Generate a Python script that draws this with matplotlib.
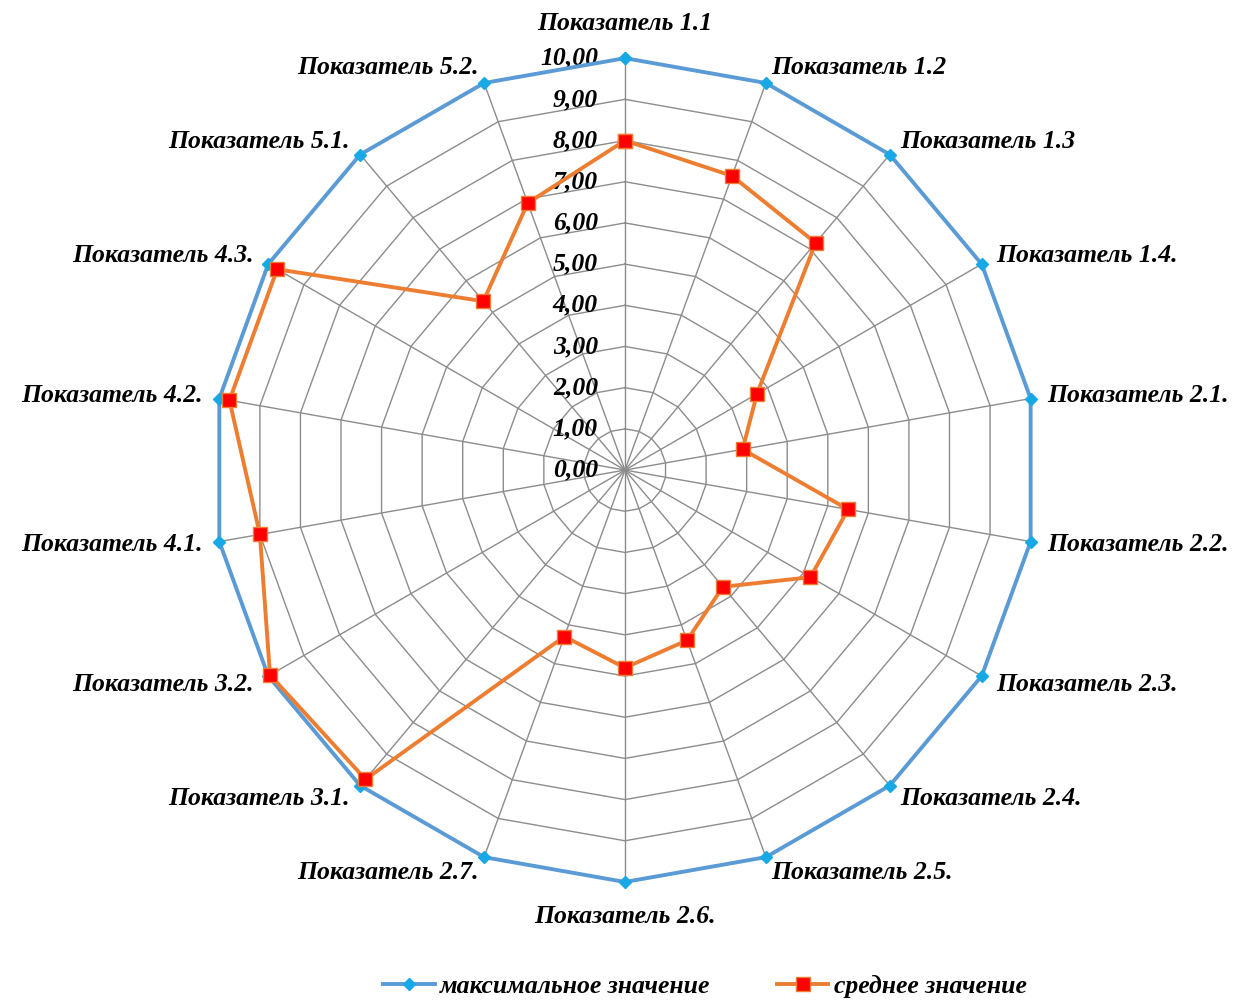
import numpy as np
import matplotlib.pyplot as plt
from matplotlib.transforms import offset_copy

plt.rcParams['font.family'] = ['Liberation Serif', 'DejaVu Serif']

# Данные
categories = ['Показатель 1.1', 'Показатель 1.2', 'Показатель 1.3', 'Показатель 1.4.',
              'Показатель 2.1.', 'Показатель 2.2.', 'Показатель 2.3.', 'Показатель 2.4.',
              'Показатель 2.5.', 'Показатель 2.6.', 'Показатель 2.7.', 'Показатель 3.1.',
              'Показатель 3.2.', 'Показатель 4.1.', 'Показатель 4.2.', 'Показатель 4.3.',
              'Показатель 5.1.', 'Показатель 5.2.']
max_values = [10, 10, 10, 10, 10, 10, 10, 10, 10, 10, 10, 10, 10, 10, 10, 10, 10, 10]
mean_values = [8.0, 7.6, 7.2, 3.7, 2.9, 5.5, 5.2, 3.7, 4.4, 4.8, 4.3, 9.8, 9.95, 9.0, 9.75, 9.75, 5.35, 6.9]
rings = [0, 1, 2, 3, 4, 5, 6, 7, 8, 9, 10]
ring_labels = ['0,00', '1,00', '2,00', '3,00', '4,00', '5,00', '6,00', '7,00', '8,00', '9,00', '10,00']

n = len(categories)
angles = np.arange(n) * 2 * np.pi / n
ang_closed = np.append(angles, angles[0])

fig = plt.figure(figsize=(12.41, 10.01), dpi=100)
ax = fig.add_axes([0.1716, 0.1189, 0.664, 0.823], projection='polar')
ax.set_theta_zero_location('N')
ax.set_theta_direction(-1)
ax.set_ylim(0, 10)
ax.grid(False)
ax.set_xticks([])
ax.set_yticks([])
ax.spines['polar'].set_visible(False)

# сетка (многоугольники)
for v in rings[1:]:
    ax.plot(ang_closed, [v] * (n + 1), color='#8c8c8c', lw=1.0, zorder=1)
for a in angles:
    ax.plot([a, a], [0, 10], color='#8c8c8c', lw=1.0, zorder=1)

font = dict(fontsize=18.5, fontweight='bold', fontstyle='italic', color='black')

# подписи осей
tr = offset_copy(ax.transData, fig=fig, x=-27, y=0, units='dots')
for v, lab in zip(rings, ring_labels):
    ax.text(0, v, lab, transform=tr, ha='right', va='center', **font)

# подписи категорий
for a, lab in zip(angles, categories):
    deg = np.degrees(a)
    if np.isclose(deg, 0) or np.isclose(deg, 180):
        ax.text(a, 10.85, lab, ha='center', va='center', **font)
    elif deg < 180:
        ax.text(a, 10.4, lab, ha='left', va='center', **font)
    else:
        ax.text(a, 10.4, lab, ha='right', va='center', **font)

ax.plot(ang_closed, max_values + max_values[:1], color='#5B9BD5', lw=2.8,
        marker='D', markersize=6, markerfacecolor='#17A9E6', markeredgecolor='#17A9E6',
        label='максимальное значение', zorder=3, clip_on=False)
ax.plot(ang_closed, mean_values + mean_values[:1], color='#ED7D31', lw=2.8,
        marker='s', markersize=10, markerfacecolor='#FF0000', markeredgecolor='#ED7D31',
        label='среднее значение', zorder=4, clip_on=False)

fig.legend(loc='lower center', bbox_to_anchor=(0.568, -0.02), ncol=2, frameon=False,
           prop=dict(size=18.5, weight='bold', style='italic'), handlelength=2.0,
           columnspacing=2.6, handletextpad=0.2)

plt.savefig('out.png', dpi=100, facecolor='white')
